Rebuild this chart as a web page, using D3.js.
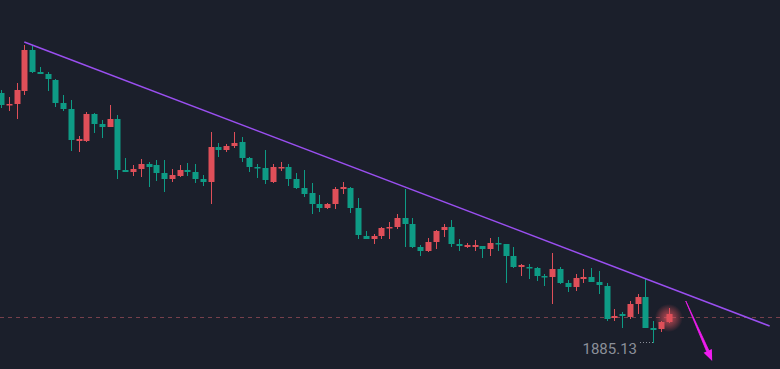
<!DOCTYPE html>
<html lang="en">
<head>
<meta charset="utf-8">
<title>Candles</title>
<script src="https://d3js.org/d3.v7.min.js"></script>
<style>
  html, body { margin: 0; padding: 0; background: #1b1f2b; }
  svg { display: block; }
</style>
</head>
<body>
<script>
  // chart size
  var width = 780;
  var height = 369;

  // OHLC per candle (red = rising, teal = falling)
  var opens = [1947.63,1944.63,1944.88,1948.13,1958.38,1952.88,1952.38,1950.88,1945.13,1943.63,
               1935.63,1935.63,1942.38,1939.88,1939.13,1941.13,1928.38,1927.88,1928.63,1929.88,
               1929.63,1927.63,1926.13,1926.88,1928.38,1927.88,1926.13,1925.38,1934.13,1933.38,
               1934.38,1935.38,1931.38,1929.13,1928.88,1925.38,1928.88,1929.13,1926.13,1923.88,
               1922.63,1919.88,1918.88,1919.88,1923.63,1923.88,1918.88,1911.88,1911.13,1911.88,
               1913.88,1914.13,1916.38,1914.88,1909.13,1908.13,1910.38,1913.38,1914.13,1909.88,
               1909.13,1909.13,1909.38,1908.63,1910.13,1909.88,1906.88,1904.13,1904.13,1903.88,
               1901.88,1901.63,1903.63,1900.13,1899.13,1901.13,1901.63,1900.38,1899.38,1891.38,
               1892.38,1891.63,1894.88,1896.63,1888.88,1888.63,1890.38];
  var highs = [1948.38,1946.63,1950.13,1959.63,1959.63,1954.13,1952.88,1951.13,1947.13,1945.88,
               1936.88,1942.88,1942.63,1940.88,1944.63,1942.13,1931.38,1929.63,1931.13,1930.38,
               1930.88,1930.88,1928.63,1929.63,1930.13,1929.88,1927.13,1937.88,1935.13,1934.88,
               1937.88,1936.63,1931.63,1929.88,1933.38,1929.88,1930.38,1929.88,1927.63,1928.38,
               1925.13,1922.13,1920.13,1924.13,1925.38,1924.13,1921.38,1913.13,1912.38,1914.13,
               1915.38,1917.38,1923.63,1916.38,1909.63,1911.38,1913.38,1914.88,1915.88,1911.13,
               1910.13,1910.88,1909.38,1911.38,1911.63,1909.88,1909.13,1904.88,1904.88,1904.13,
               1902.38,1907.63,1904.13,1900.88,1902.38,1903.63,1903.88,1903.13,1900.13,1893.63,
               1892.88,1895.63,1897.38,1901.13,1890.63,1890.63,1893.88];
  var lows  = [1943.88,1943.13,1941.13,1947.13,1952.63,1952.38,1948.13,1944.13,1943.13,1933.13,
               1932.88,1935.38,1937.63,1936.38,1939.13,1926.13,1927.88,1926.88,1926.63,1924.13,
               1925.63,1922.88,1925.38,1926.63,1926.88,1925.13,1924.38,1919.88,1931.63,1932.88,
               1933.88,1930.38,1927.88,1926.38,1924.88,1925.13,1928.13,1924.38,1923.63,1921.63,
               1917.38,1917.88,1918.63,1918.63,1922.38,1917.63,1911.13,1911.13,1909.88,1911.13,
               1911.13,1913.63,1909.13,1908.88,1906.88,1907.88,1908.63,1911.63,1909.13,1908.13,
               1908.88,1908.13,1906.38,1906.88,1908.13,1900.13,1903.88,1901.88,1901.13,1900.63,
               1899.38,1894.88,1899.88,1897.88,1898.13,1900.13,1900.38,1897.38,1890.63,1890.63,
               1888.88,1891.13,1892.38,1888.88,1885.13,1887.88,1890.13];
  var closes = [1944.63,1944.88,1948.38,1958.38,1952.88,1952.38,1951.13,1945.13,1943.63,1935.88,
               1936.13,1942.38,1939.88,1939.13,1941.13,1928.38,1927.88,1928.63,1929.88,1929.13,
               1927.63,1926.13,1927.13,1928.38,1927.88,1926.13,1925.38,1934.13,1933.38,1934.38,
               1935.13,1931.38,1929.13,1928.88,1925.88,1929.13,1929.13,1926.13,1923.88,1922.38,
               1919.88,1918.88,1919.88,1923.63,1924.13,1918.88,1912.13,1911.13,1911.88,1913.88,
               1914.13,1916.38,1914.88,1909.13,1908.13,1910.38,1913.13,1914.13,1909.88,1909.38,
               1909.63,1909.63,1908.63,1910.13,1909.88,1906.88,1904.13,1904.63,1903.88,1901.88,
               1901.63,1903.63,1900.13,1899.13,1901.38,1901.63,1900.38,1899.63,1891.13,1891.88,
               1891.88,1894.88,1896.63,1888.88,1888.38,1890.38,1892.38];

  // trend line and arrow, as [candle index, price]
  var trendLine = [[3, 1960.38], [99, 1889.38]];
  var arrowPts = [[88.2, 1895.63], [91.6, 1880.63]];
  var refLevel = 1891.63;
  var lowIndex = 84;
  var lowLabel = "1885.13";

  var upColor = "#df4f59";
  var downColor = "#0e9b85";

  var data = opens.map(function(o, i) {
    return { i: i, o: o, h: highs[i], l: lows[i], c: closes[i] };
  });

  var xScale = d3.scaleLinear()
                 .domain([0, 86])
                 .range([1, 668.7]);

  var yScale = d3.scaleLinear()
                 .domain([1885.13, 1960.13])
                 .range([343, 43]);

  var svg = d3.select("body")
              .append("svg")
              .attr("width", width)
              .attr("height", height);

  var defs = svg.append("defs");
  var glow = defs.append("radialGradient").attr("id", "glow");
  glow.append("stop").attr("offset", "0%").attr("stop-color", "#e8545e").attr("stop-opacity", 0.8);
  glow.append("stop").attr("offset", "55%").attr("stop-color", "#e8545e").attr("stop-opacity", 0.4);
  glow.append("stop").attr("offset", "100%").attr("stop-color", "#e8545e").attr("stop-opacity", 0);

  // dashed price line
  svg.append("line")
     .attr("x1", 0)
     .attr("x2", width)
     .attr("y1", Math.round(yScale(refLevel)) + 0.5)
     .attr("y2", Math.round(yScale(refLevel)) + 0.5)
     .attr("stroke", "#77404b")
     .attr("stroke-width", 1)
     .attr("stroke-dasharray", "4,4");

  // glow under the last candle
  var last = data[data.length - 1];
  svg.append("circle")
     .attr("cx", xScale(last.i))
     .attr("cy", yScale((last.o + last.c) / 2))
     .attr("r", 14)
     .attr("fill", "url(#glow)");

  var candles = svg.selectAll("g.candle")
                   .data(data)
                   .enter()
                   .append("g")
                   .attr("class", "candle");

  candles.append("line")
         .attr("x1", function(d) { return Math.round(xScale(d.i)) + 0.5; })
         .attr("x2", function(d) { return Math.round(xScale(d.i)) + 0.5; })
         .attr("y1", function(d) { return yScale(d.h); })
         .attr("y2", function(d) { return yScale(d.l); })
         .attr("stroke", function(d) { return d.c >= d.o ? upColor : downColor; })
         .attr("stroke-width", 1);

  candles.append("rect")
         .attr("x", function(d) { return Math.round(xScale(d.i)) - 2.5; })
         .attr("y", function(d) { return yScale(Math.max(d.o, d.c)); })
         .attr("width", 6)
         .attr("height", function(d) {
           return Math.max(1.5, Math.abs(yScale(d.o) - yScale(d.c)));
         })
         .attr("fill", function(d) { return d.c >= d.o ? upColor : downColor; });

  // trend line
  svg.append("line")
     .attr("x1", xScale(trendLine[0][0]))
     .attr("y1", yScale(trendLine[0][1]))
     .attr("x2", xScale(trendLine[1][0]))
     .attr("y2", yScale(trendLine[1][1]))
     .attr("stroke", "#9a4ff0")
     .attr("stroke-width", 1.5);

  // magenta arrow
  var ax1 = xScale(arrowPts[0][0]), ay1 = yScale(arrowPts[0][1]);
  var ax2 = xScale(arrowPts[1][0]), ay2 = yScale(arrowPts[1][1]);
  var ang = Math.atan2(ay2 - ay1, ax2 - ax1);
  var headLen = 11, headW = 4.5;
  var bx = ax2 - headLen * Math.cos(ang), by = ay2 - headLen * Math.sin(ang);
  var nx = -Math.sin(ang), ny = Math.cos(ang);

  svg.append("path")
     .attr("d", "M" + ax1 + "," + ay1 +
                "L" + (bx + nx * 1.2) + "," + (by + ny * 1.2) +
                "L" + (bx - nx * 1.2) + "," + (by - ny * 1.2) + "Z")
     .attr("fill", "#f01cf0")
     .attr("stroke", "#f01cf0")
     .attr("stroke-width", 0.8);

  svg.append("path")
     .attr("d", "M" + ax2 + "," + ay2 +
                "L" + (bx + nx * headW) + "," + (by + ny * headW) +
                "L" + (bx - nx * headW) + "," + (by - ny * headW) + "Z")
     .attr("fill", "#f01cf0");

  // lowest low marker
  var lowY = Math.round(yScale(lows[lowIndex])) - 0.5;
  svg.append("line")
     .attr("x1", 640)
     .attr("x2", xScale(lowIndex))
     .attr("y1", lowY)
     .attr("y2", lowY)
     .attr("stroke", "#8b8f99")
     .attr("stroke-width", 1)
     .attr("stroke-dasharray", "1,2");

  svg.append("text")
     .attr("x", 637)
     .attr("y", lowY + 11)
     .attr("text-anchor", "end")
     .attr("fill", "#8b8f99")
     .style("font-family", "Roboto, 'Noto Sans', sans-serif")
     .style("font-size", "15px")
     .text(lowLabel);
</script>
</body>
</html>
